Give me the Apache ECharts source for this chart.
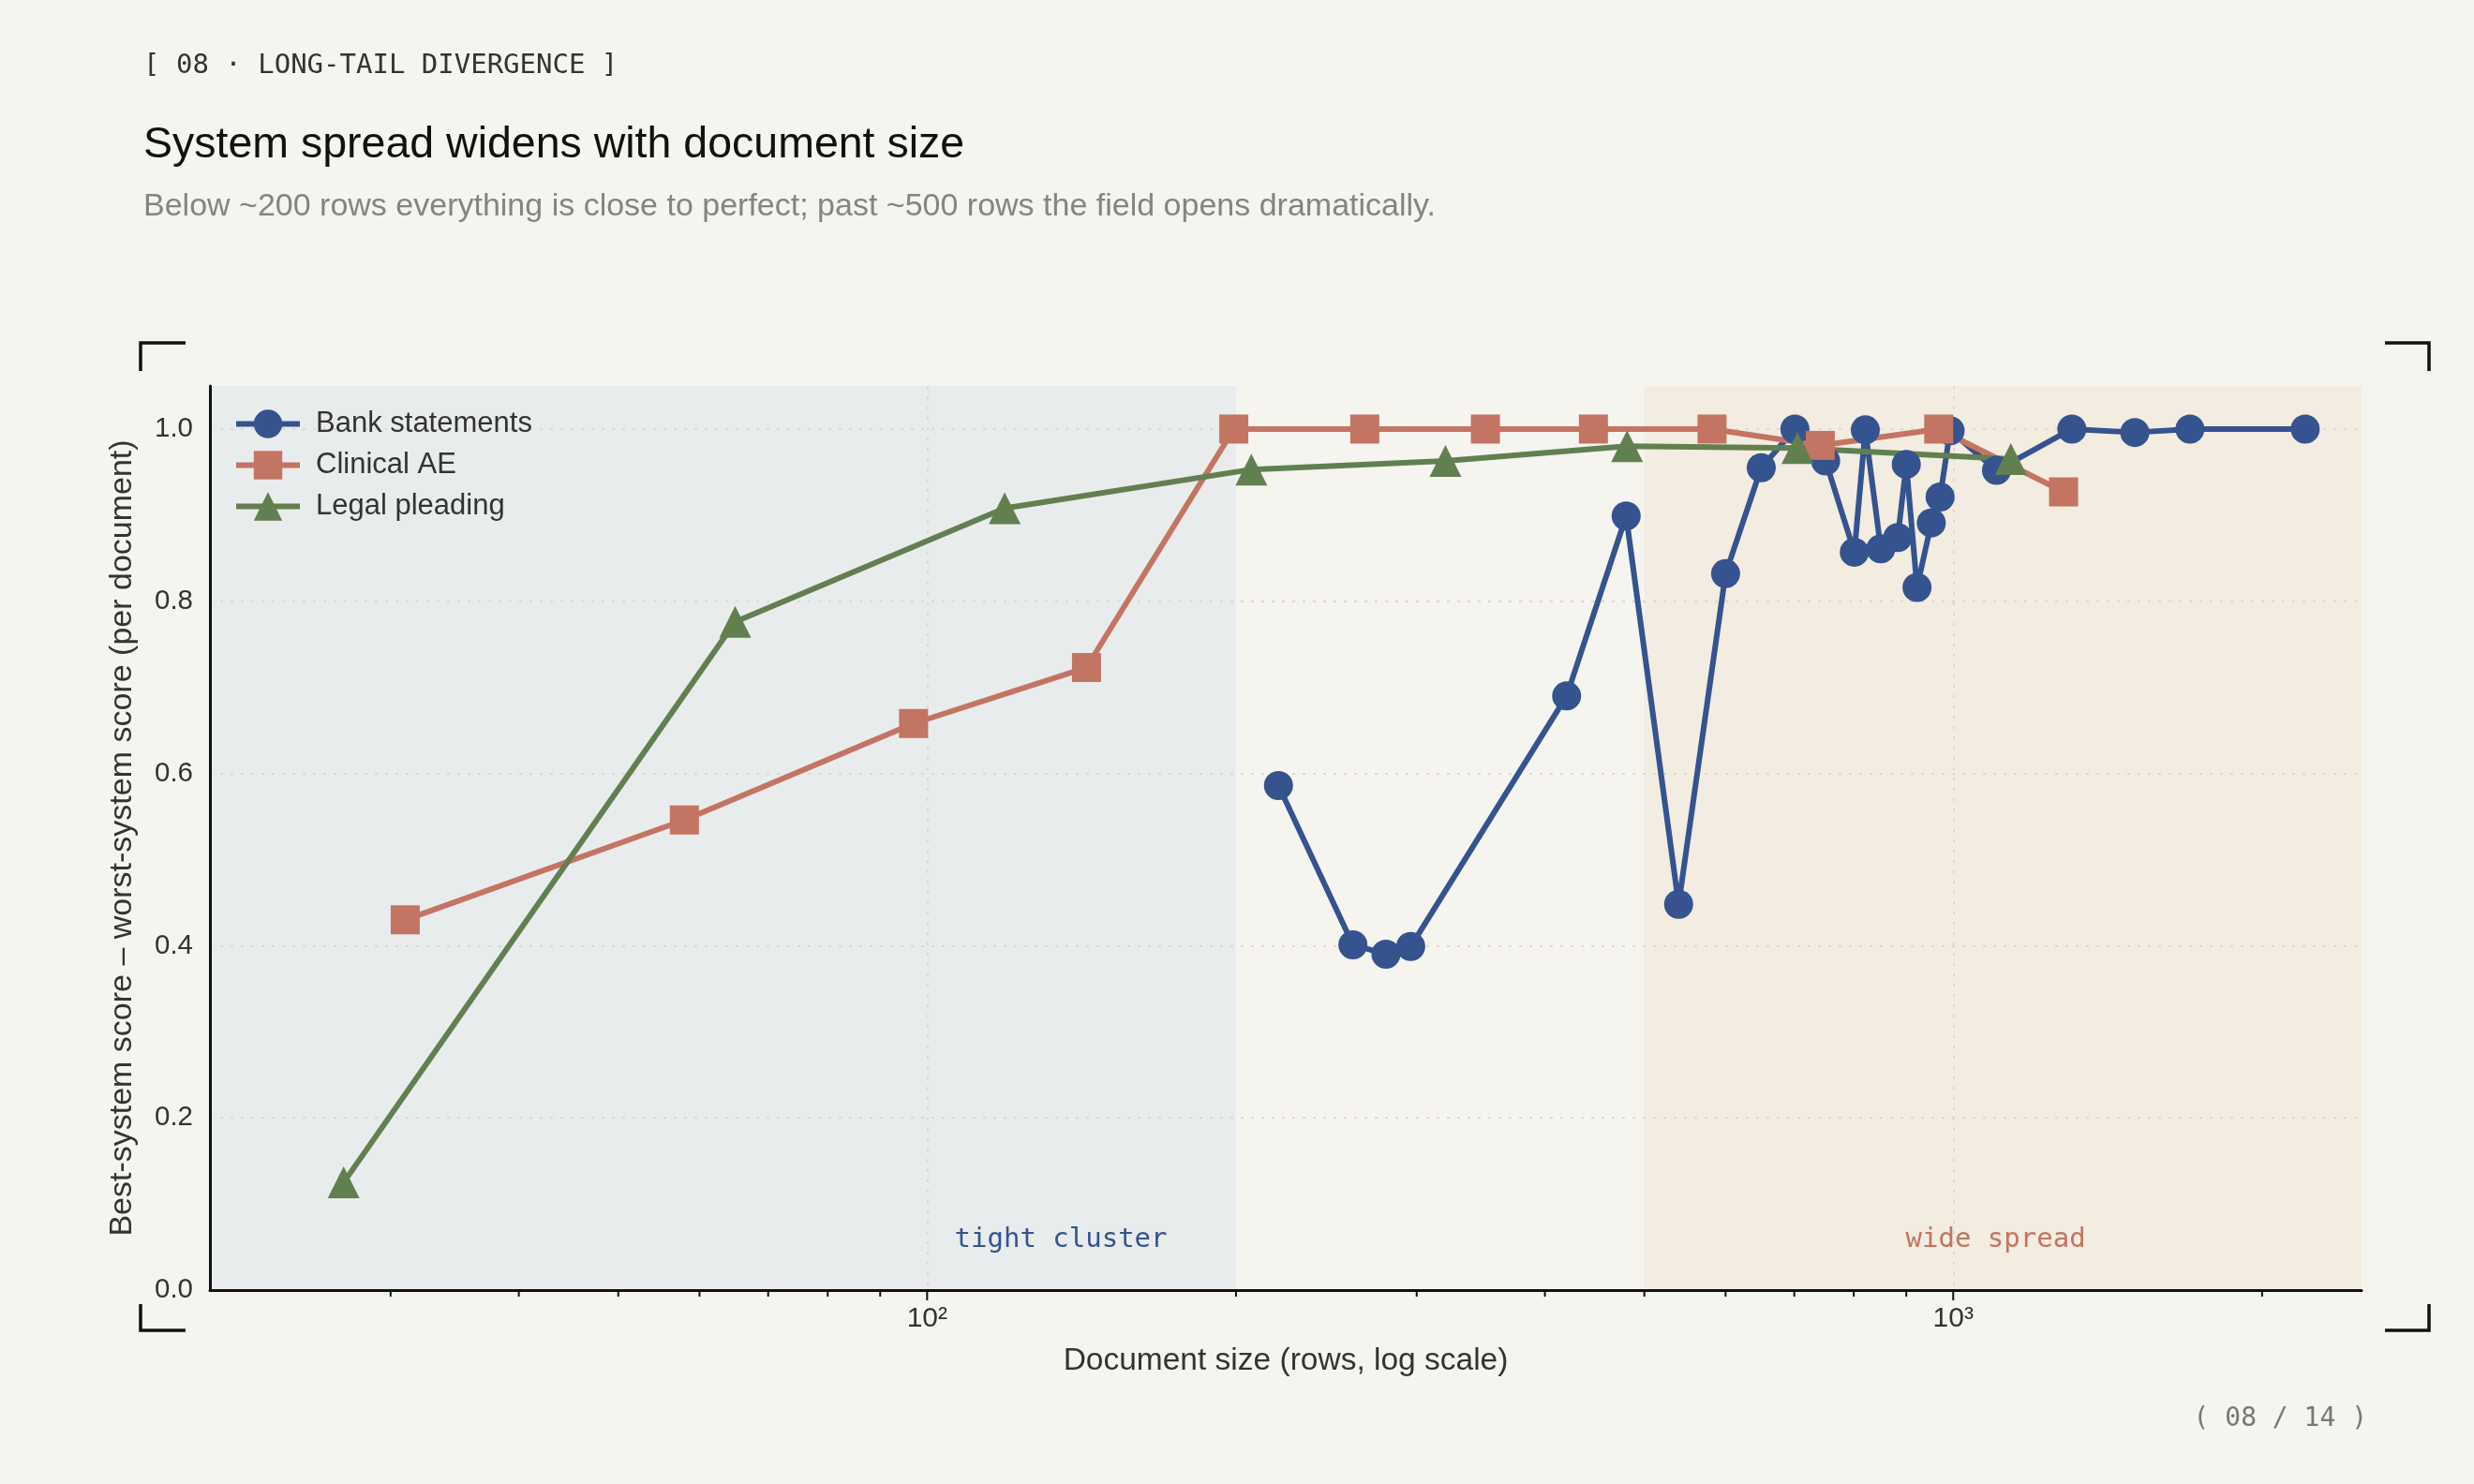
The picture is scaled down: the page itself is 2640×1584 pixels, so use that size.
<!DOCTYPE html>
<html>
<head>
<meta charset="utf-8">
<title>Long-tail divergence</title>
<script src="https://cdn.jsdelivr.net/npm/echarts@6/dist/echarts.min.js"></script>
<style>
  html, body { margin: 0; padding: 0; background: #f5f4ef; }
  #chart { width: 2640px; height: 1584px; }
</style>
</head>
<body>
<div id="chart"></div>
<script>
// document size (rows) and best-minus-worst spread
var bankRows = [220, 260, 280, 296, 420, 480, 540, 600, 650, 701, 751, 801, 821, 850, 883, 900, 922, 952, 971, 993, 1102, 1305, 1503, 1701, 2203];
var bankSpread = [0.586, 0.401, 0.390, 0.399, 0.690, 0.899, 0.448, 0.832, 0.955, 1.0, 0.963, 0.857, 0.999, 0.861, 0.874, 0.959, 0.816, 0.891, 0.921, 0.998, 0.952, 1.0, 0.996, 1.0, 1.0];

var clinicalRows = [31, 58, 97, 143, 199, 267, 350, 446, 582, 742, 968, 1281];
var clinicalSpread = [0.430, 0.546, 0.658, 0.723, 1.0, 1.0, 1.0, 1.0, 1.0, 0.981, 1.0, 0.927];

var legalRows = [27, 65, 119, 207, 320, 481, 705, 1138];
var legalSpread = [0.125, 0.776, 0.908, 0.953, 0.963, 0.980, 0.978, 0.965];

var tightBand = [20, 200];
var wideBand = [500, 2500];
var bandLabels = ['tight cluster', 'wide spread'];
var bandLabelX = [135, 1100];
var bandLabelY = 0.058;

var xMajorTicks = [100, 1000];
var xMajorLabels = ['10²', '10³'];
var xMinorTicks = [30, 40, 50, 60, 70, 80, 90, 200, 300, 400, 500, 600, 700, 800, 900, 2000];

var BLUE = '#34538f', RED = '#c47462', GREEN = '#627f50';
var SANS = '"Liberation Sans", Arial, Helvetica, sans-serif';
var MONO = '"DejaVu Sans Mono", monospace';

function zip(xs, ys) {
  return xs.map(function (x, i) { return [x, ys[i]]; });
}

var tickData = xMinorTicks.map(function (v) { return [v, 0]; })
  .concat(xMajorTicks.map(function (v) { return [v, 1]; }));

var chart = echarts.init(document.getElementById('chart'), null, { renderer: 'canvas' });

function bracket(points) {
  return {
    type: 'polyline',
    shape: { points: points },
    style: { stroke: '#111', lineWidth: 3.5, fill: null }
  };
}

var option = {
  backgroundColor: '#f5f4ef',
  animation: false,
  title: [
    { text: '[ 08 · LONG-TAIL DIVERGENCE ]', left: 153, top: 53, padding: 0,
      textStyle: { fontFamily: MONO, fontSize: 29, fontWeight: 'normal', color: '#333', lineHeight: 34 } },
    { text: 'System spread widens with document size', left: 153, top: 127, padding: 0,
      textStyle: { fontFamily: SANS, fontSize: 46.5, fontWeight: 'normal', color: '#111', lineHeight: 56 } },
    { text: 'Below ~200 rows everything is close to perfect; past ~500 rows the field opens dramatically.', left: 153, top: 202, padding: 0,
      textStyle: { fontFamily: SANS, fontSize: 34, fontWeight: 'normal', color: '#85847f', lineHeight: 38 } },
    { text: '( 08 / 14 )', right: 114, top: 1498, padding: 0,
      textStyle: { fontFamily: MONO, fontSize: 28, fontWeight: 'normal', color: '#777', lineHeight: 34 } }
  ],
  graphic: [
    bracket([[150, 396], [150, 366], [198, 366]]),
    bracket([[2545, 366], [2592, 366], [2592, 396]]),
    bracket([[150, 1392], [150, 1420], [198, 1420]]),
    bracket([[2545, 1420], [2592, 1420], [2592, 1392]])
  ],
  legend: {
    data: ['Bank statements', 'Clinical AE', 'Legal pleading'],
    orient: 'vertical',
    left: 249,
    top: 437,
    padding: 0,
    itemWidth: 68,
    itemHeight: 38,
    itemGap: 13,
    lineStyle: { width: 6 },
    textStyle: { fontFamily: SANS, fontSize: 31, color: '#333', padding: [0, 0, 0, 12] }
  },
  grid: { left: 224, right: 120, top: 412, bottom: 207, backgroundColor: '#f5f4ef', show: true, borderWidth: 0 },
  xAxis: {
    type: 'log',
    logBase: 10,
    min: 20,
    max: 2500,
    z: 1.5,
    name: 'Document size (rows, log scale)',
    nameLocation: 'middle',
    nameGap: 59,
    nameTextStyle: { fontFamily: SANS, fontSize: 33.5, color: '#333' },
    axisLine: { show: true, lineStyle: { color: '#111', width: 3 } },
    axisTick: { show: false },
    axisLabel: {
      margin: 16,
      fontFamily: SANS, fontSize: 30, color: '#333',
      formatter: function (v) {
        for (var i = 0; i < xMajorTicks.length; i++) {
          if (Math.abs(v - xMajorTicks[i]) < 1e-6 * xMajorTicks[i]) return xMajorLabels[i];
        }
        return '';
      }
    },
    splitLine: { show: true, showMinLine: false, showMaxLine: false, lineStyle: { color: '#dcd8ce', width: 2, type: [3, 8] } },
    minorTick: { show: false }
  },
  yAxis: {
    type: 'value',
    min: 0,
    max: 1.05,
    interval: 0.2,
    z: 1.5,
    name: 'Best-system score – worst-system score (per document)',
    nameLocation: 'middle',
    nameGap: 76,
    nameTextStyle: { fontFamily: SANS, fontSize: 34, color: '#333' },
    axisLine: { show: true, lineStyle: { color: '#111', width: 3 } },
    axisTick: { show: false },
    axisLabel: {
      margin: 18,
      fontFamily: SANS, fontSize: 29.5, color: '#333',
      showMaxLabel: false,
      formatter: function (v) {
        return Math.abs(v * 5 - Math.round(v * 5)) < 1e-6 ? v.toFixed(1) : '';
      }
    },
    splitLine: { show: true, showMinLine: false, showMaxLine: false, lineStyle: { color: '#dcd8ce', width: 2, type: [3, 8] } }
  },
  series: [
    {
      name: 'axis ticks',
      type: 'custom',
      data: tickData,
      clip: false,
      silent: true,
      z: 2,
      renderItem: function (params, api) {
        var p = api.coord([api.value(0), 0]);
        var len = api.value(1) ? 10 : 6;
        return {
          type: 'line',
          shape: { x1: p[0], y1: p[1] + 1, x2: p[0], y2: p[1] + 1 + len },
          style: { stroke: '#111', lineWidth: 2 }
        };
      },
      markArea: {
        silent: true,
        z: 1,
        data: [
          [{ xAxis: tightBand[0], itemStyle: { color: '#e9ecec' } }, { xAxis: tightBand[1] }],
          [{ xAxis: wideBand[0], itemStyle: { color: '#f2ece1' } }, { xAxis: wideBand[1] }]
        ]
      },
      markPoint: {
        silent: true,
        symbol: 'rect',
        symbolSize: 1,
        itemStyle: { color: 'rgba(0,0,0,0)' },
        label: { show: true, position: 'inside', fontFamily: MONO, fontSize: 29 },
        data: [
          { coord: [bandLabelX[0], bandLabelY], label: { formatter: bandLabels[0], color: BLUE } },
          { coord: [bandLabelX[1], bandLabelY], label: { formatter: bandLabels[1], color: RED } }
        ]
      }
    },
    {
      name: 'Bank statements',
      type: 'line',
      data: zip(bankRows, bankSpread),
      symbol: 'circle',
      symbolSize: 31,
      showAllSymbol: true,
      lineStyle: { color: BLUE, width: 6 },
      itemStyle: { color: BLUE },
      emphasis: { disabled: true },
      z: 2
    },
    {
      name: 'Clinical AE',
      type: 'line',
      data: zip(clinicalRows, clinicalSpread),
      symbol: 'rect',
      symbolSize: 31,
      lineStyle: { color: RED, width: 6 },
      itemStyle: { color: RED },
      emphasis: { disabled: true },
      z: 2
    },
    {
      name: 'Legal pleading',
      type: 'line',
      data: zip(legalRows, legalSpread),
      symbol: 'triangle',
      symbolSize: 34,
      lineStyle: { color: GREEN, width: 6 },
      itemStyle: { color: GREEN },
      emphasis: { disabled: true },
      z: 2
    }
  ]
};

chart.setOption(option);
</script>
</body>
</html>
